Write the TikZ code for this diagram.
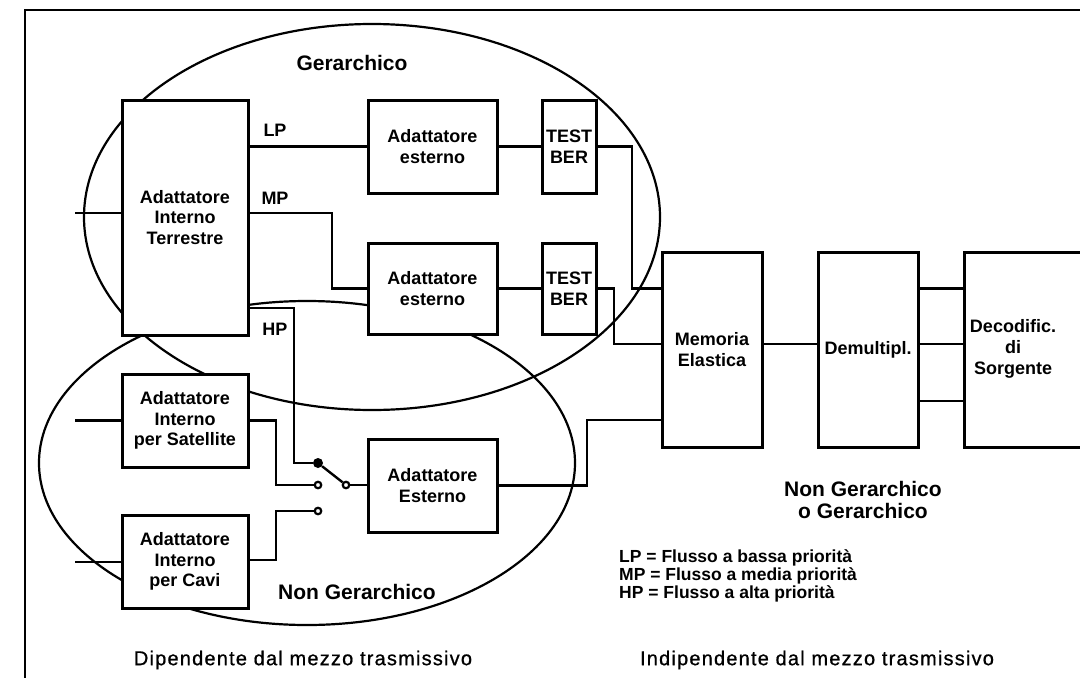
\documentclass[tikz,border=0pt]{standalone}
\usepackage{fontspec}
\setmainfont{Liberation Sans}
\newfontfamily\spacedfont[LetterSpace=6,FakeBold=0.8]{Liberation Sans}
\begin{document}
\begin{tikzpicture}[x=1pt,y=-1pt,
  blk/.style={draw, fill=white, line width=3pt, inner sep=0pt, align=center,
    font=\bfseries\fontsize{18}{20.5}\selectfont},
  wire/.style={line width=2.4pt},
  zone/.style={line width=2.2pt},
  frame/.style={line width=2pt},
  lbl/.style={inner sep=0pt, font=\bfseries\fontsize{18}{20}\selectfont},
  ttl/.style={inner sep=0pt, align=center, font=\bfseries\fontsize{21}{22}\selectfont},
  legend/.style={inner sep=0pt, align=left, font=\bfseries\fontsize{17.5}{18}\selectfont},
  medium/.style={inner sep=0pt, font=\spacedfont\fontsize{20}{22}\selectfont},
  pivot/.style={circle, fill, inner sep=0pt, minimum size=10pt},
  contact/.style={circle, draw, fill=white, line width=2.2pt, inner sep=0pt, minimum size=6.5pt},
]
\useasboundingbox (0,0) rectangle (1080,678);
\clip (0,0) rectangle (1080,678);

% outer frame (top and left edges)
\draw[frame] (25,678) -- (25,10) -- (1085,10);

% hierarchical and non-hierarchical regions
\draw[zone] (372,217) ellipse [x radius=288pt, y radius=193pt];
\draw[zone] (307,463) ellipse [x radius=268pt, y radius=162pt];

% switch contacts
\node[pivot]   (s0) at (318,463) {};
\node[contact] (s1) at (318,485) {};
\node[contact] (s2) at (318,511) {};
\node[contact] (sp) at (346,485) {};

% input ends
\coordinate (in1) at (75,213);
\coordinate (in2) at (75,420.5);
\coordinate (in3) at (75,562);

% connectors
\draw[wire] (in1) -- (122,213);
\draw[wire] (in2) -- (122,420.5);
\draw[wire] (in3) -- (122,562);

% LP branch
\draw[wire] (248,146.5) -- (368,146.5);
\draw[wire] (497,146.5) -- (542,146.5);
\draw[wire] (596,146.5) -| (632,288.5) -- (662,288.5);
% MP branch
\draw[wire] (248,213) -| (332,288.5) -- (368,288.5);
\draw[wire] (497,288.5) -- (542,288.5);
\draw[wire] (596,288.5) -| (614,344) -- (662,344);
% HP branch and switch
\draw[wire] (248,308) -| (294,463) -- (s0);
\draw[wire] (s0) -- (sp);
\draw[wire] (sp) -- (368,485);
\draw[wire] (248,420.5) -| (276,485) -- (s1);
\draw[wire] (248,560) -| (276,511) -- (s2);
\draw[wire] (497,485.5) -| (587,420) -- (662,420);
% receiver chain
\draw[wire] (762,344) -- (818,344);
\draw[wire] (918,288.5) -- (964,288.5);
\draw[wire] (918,344) -- (964,344);
\draw[wire] (918,401) -- (964,401);

% blocks
\node[blk, minimum width=126pt, minimum height=235pt] (ait) at (185,217.5) {Adattatore\\Interno\\Terrestre};
\node[blk, minimum width=129pt, minimum height=93pt] (ae1) at (432.5,146.5) {Adattatore\\esterno};
\node[blk, minimum width=129pt, minimum height=91pt] (ae2) at (432.5,288.5) {Adattatore\\esterno};
\node[blk, minimum width=54pt, minimum height=93pt] (tb1) at (569,146.5) {TEST\\BER};
\node[blk, minimum width=54pt, minimum height=91pt] (tb2) at (569,288.5) {TEST\\BER};
\node[blk, minimum width=100pt, minimum height=195pt] (mem) at (712,349.5) {Memoria\\Elastica};
\node[blk, minimum width=100pt, minimum height=195pt] (dem) at (868,349.5) {Demultipl.};
\node[blk, minimum width=130pt, minimum height=195pt] (dec) at (1029,349.5) {};
\node[lbl, align=center, font=\bfseries\fontsize{18}{21}\selectfont] (dectxt) at (1013,349) {Decodific.\\di\\Sorgente};
\node[blk, minimum width=126pt, minimum height=93pt] (sat) at (185,420.5) {Adattatore\\Interno\\per Satellite};
\node[blk, minimum width=126pt, minimum height=93pt] (cav) at (185,561.5) {Adattatore\\Interno\\per Cavi};
\node[blk, minimum width=129pt, minimum height=93pt] (aes) at (432.5,485.5) {Adattatore\\Esterno};

% stream labels
\node[lbl] (lp) at (275,130) {LP};
\node[lbl] (mp) at (275,198) {MP};
\node[lbl] (hp) at (275,329) {HP};

% region titles
\node[ttl] (gerarchico) at (352,63) {Gerarchico};
\node[ttl] (nongerarchico) at (357,592) {Non Gerarchico};
\node[ttl] (entrambi) at (863,500) {Non Gerarchico\\o Gerarchico};

% legend
\node[legend, anchor=north west] (leg) at (619,549) {LP = Flusso a bassa priorità\\MP = Flusso a media priorità\\HP = Flusso a alta priorità};

% captions
\node[medium] (dip) at (303,660) {Dipendente dal mezzo trasmissivo};
\node[medium] (indip) at (817,660) {Indipendente dal mezzo trasmissivo};
\end{tikzpicture}
\end{document}
